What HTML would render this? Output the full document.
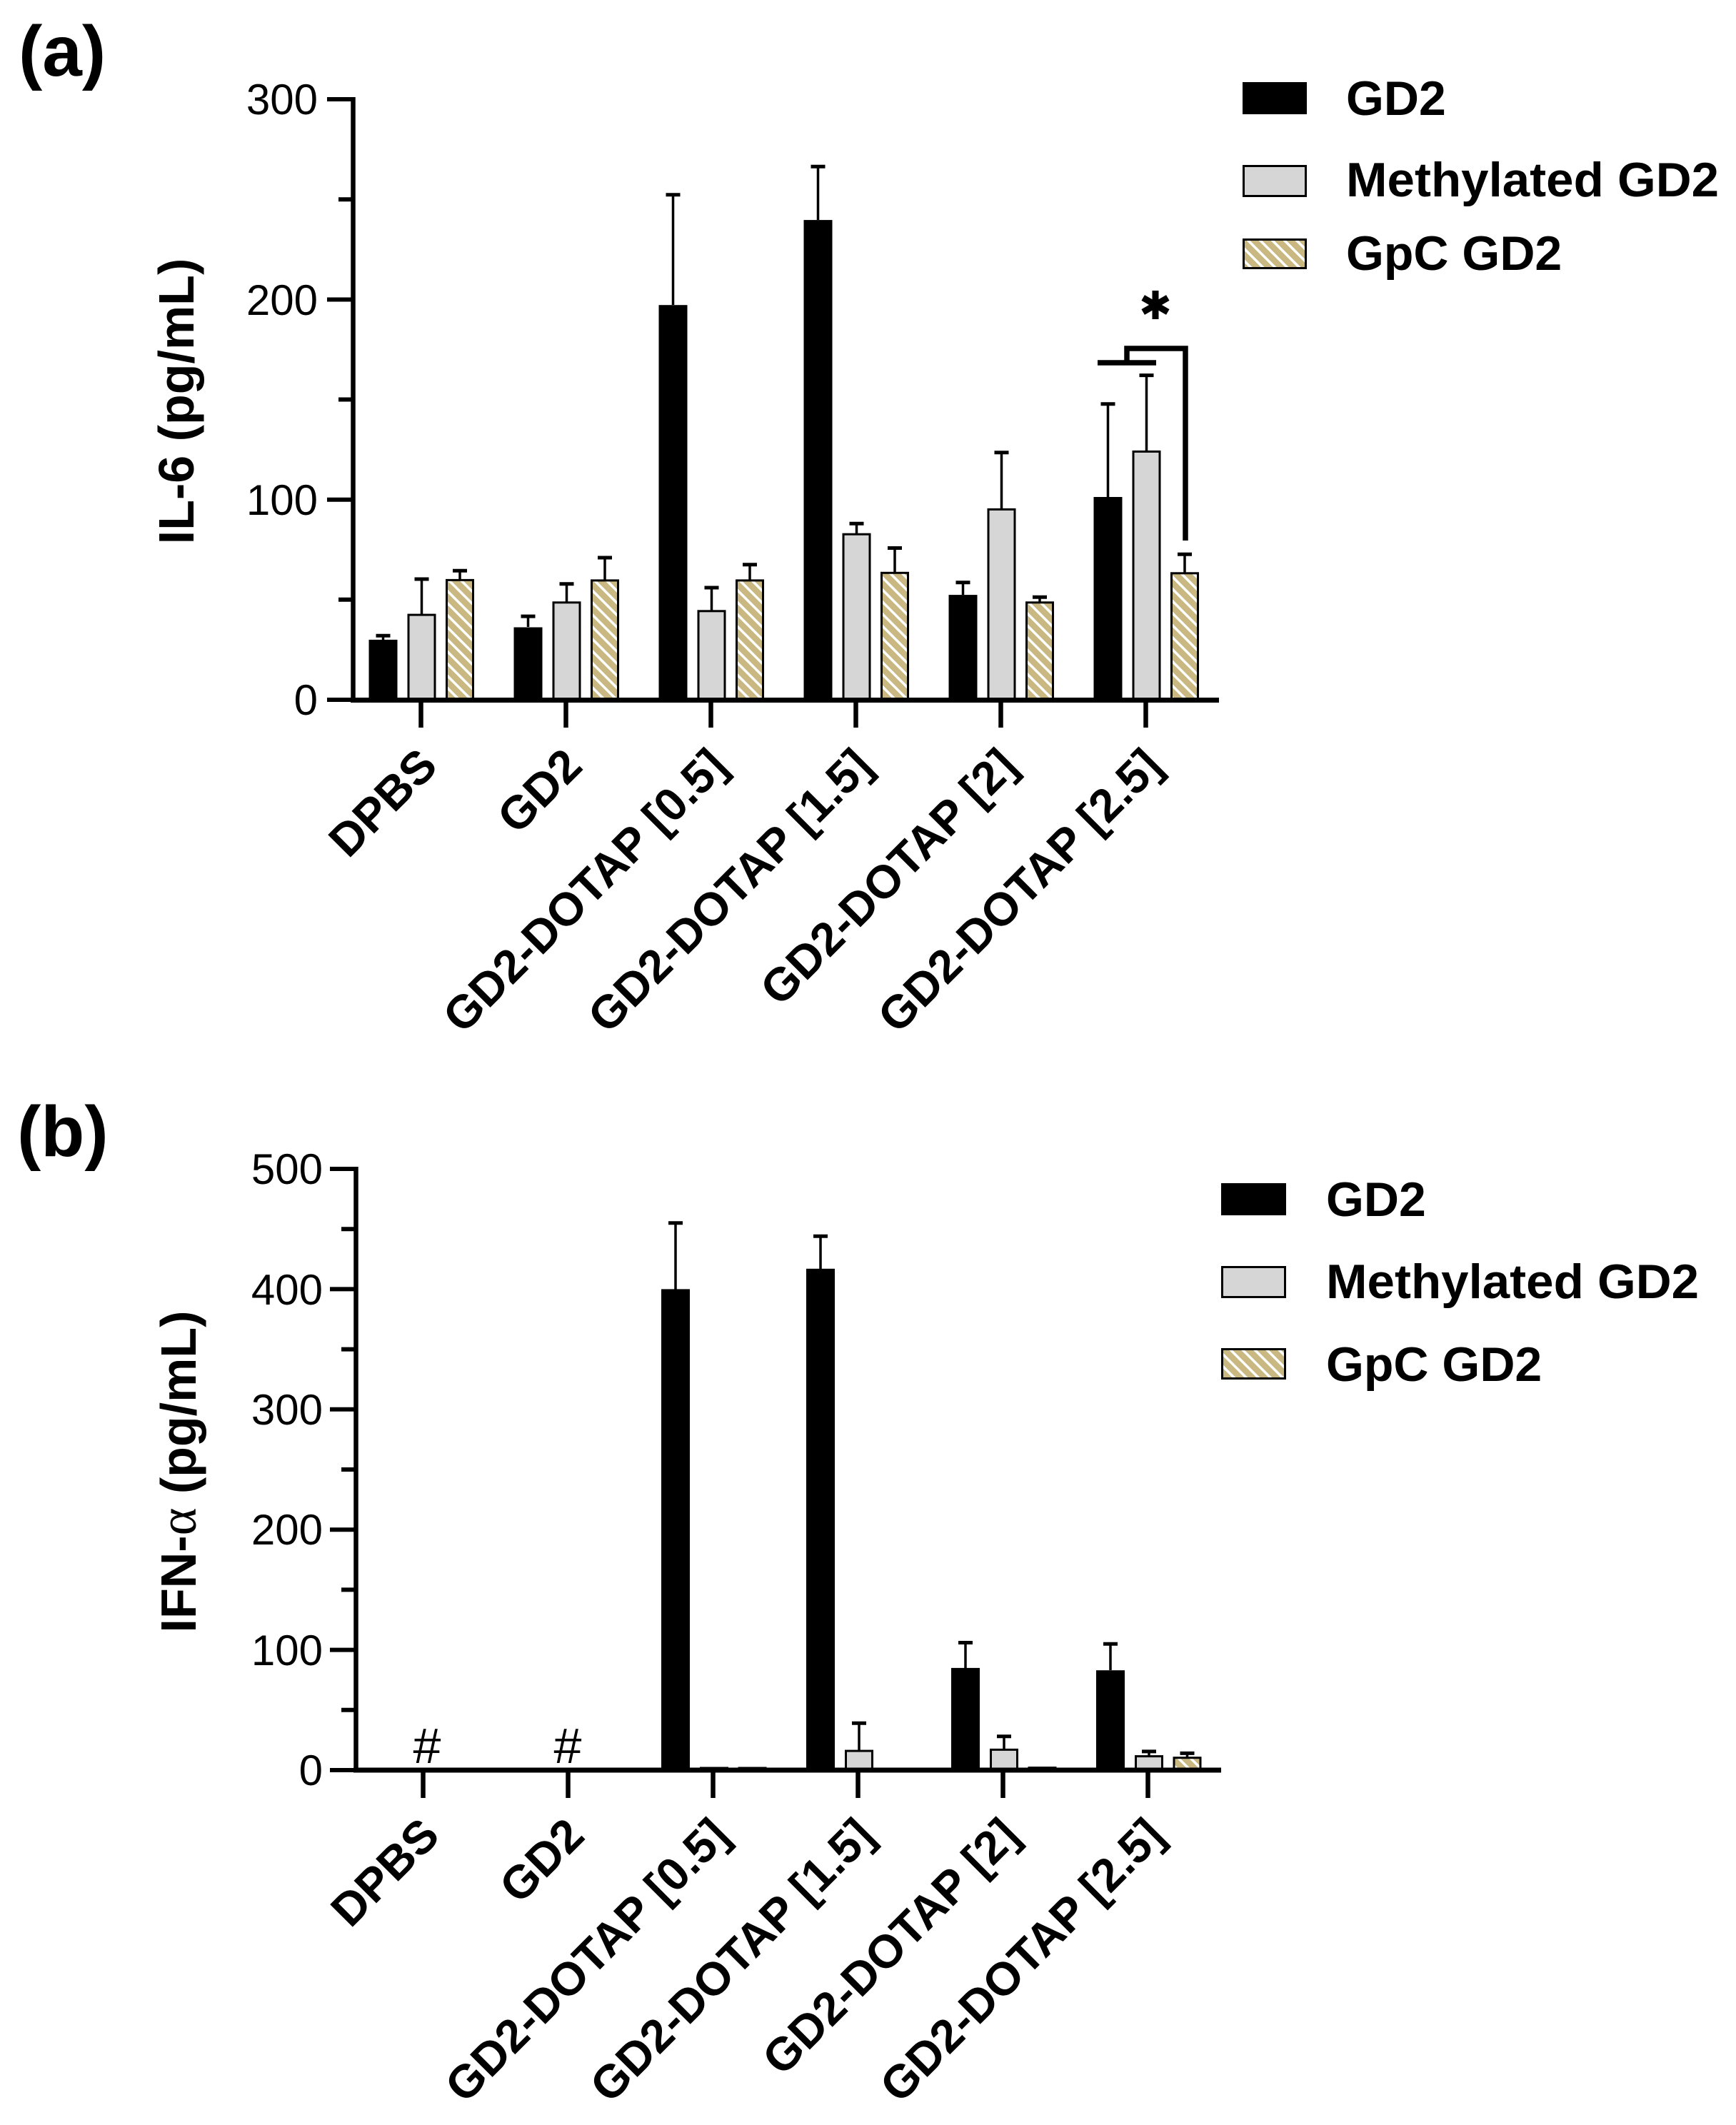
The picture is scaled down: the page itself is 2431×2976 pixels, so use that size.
<!DOCTYPE html>
<html>
<head>
<meta charset="utf-8">
<style>
  html, body { margin:0; padding:0; background:#fff; }
  svg { display:block; }
  text { font-family: "Liberation Sans", Arial, sans-serif; fill:#000; }
  .tick { font-size:60px; font-weight:normal; }
  .lab { font-size:65px; font-weight:bold; }
  .leg { font-size:68px; font-weight:bold; }
  .ylab { font-size:70px; font-weight:bold; }
  .panel { font-size:100px; font-weight:bold; }
</style>
</head>
<body>
<svg width="2431" height="2976" viewBox="0 0 2431 2976" xmlns="http://www.w3.org/2000/svg">
  <defs>
    <pattern id="hatch" patternUnits="userSpaceOnUse" width="12" height="12" patternTransform="rotate(-45)">
      <rect x="0" y="0" width="12" height="12" fill="#c9b882"/>
      <rect x="0" y="0" width="3.5" height="12" fill="#ffffff"/>
    </pattern>
  </defs>
  <rect width="2431" height="2976" fill="#fff"/>

  <!-- ================= PANEL (a) ================= -->
  <text class="panel" x="26" y="106">(a)</text>

  <!-- y label -->
  <text class="ylab" text-anchor="middle" transform="translate(271,562) rotate(-90)">IL-6 (pg/mL)</text>

  <!-- tick labels -->
  <text class="tick" x="445" y="160" text-anchor="end">300</text>
  <text class="tick" x="445" y="441" text-anchor="end">200</text>
  <text class="tick" x="445" y="721" text-anchor="end">100</text>
  <text class="tick" x="445" y="1001" text-anchor="end">0</text>

  <!-- bars (a) -->
  <g stroke="#000" stroke-width="3">
    <!-- DPBS -->
    <rect x="516.5" y="895.9" width="40" height="84.1" fill="#000" stroke="none"/>
    <rect x="572" y="861.1" width="37" height="119" fill="#d6d6d6"/>
    <rect x="625.5" y="812.4" width="37" height="167.6" fill="url(#hatch)"/>
    <!-- GD2 -->
    <rect x="719.5" y="878.5" width="40" height="101.5" fill="#000" stroke="none"/>
    <rect x="775" y="843.8" width="37" height="136.2" fill="#d6d6d6"/>
    <rect x="828.5" y="812.9" width="37" height="167.1" fill="url(#hatch)"/>
    <!-- 0.5 -->
    <rect x="922.5" y="427.2" width="40" height="552.8" fill="#000" stroke="none"/>
    <rect x="978" y="855.8" width="37" height="124.2" fill="#d6d6d6"/>
    <rect x="1031.5" y="812.9" width="37" height="167.1" fill="url(#hatch)"/>
    <!-- 1.5 -->
    <rect x="1125.5" y="308.1" width="40" height="671.9" fill="#000" stroke="none"/>
    <rect x="1181" y="748.2" width="37" height="231.8" fill="#d6d6d6"/>
    <rect x="1234.5" y="802.3" width="37" height="177.7" fill="url(#hatch)"/>
    <!-- 2 -->
    <rect x="1328.5" y="833.1" width="40" height="146.9" fill="#000" stroke="none"/>
    <rect x="1384" y="713.4" width="37" height="266.6" fill="#d6d6d6"/>
    <rect x="1437.5" y="843.8" width="37" height="136.2" fill="url(#hatch)"/>
    <!-- 2.5 -->
    <rect x="1531.5" y="696" width="40" height="284" fill="#000" stroke="none"/>
    <rect x="1587" y="632.4" width="37" height="347.6" fill="#d6d6d6"/>
    <rect x="1640.5" y="802.8" width="37" height="177.2" fill="url(#hatch)"/>
  </g>

  <!-- error bars (a) -->
  <g stroke="#000" fill="none">
    <g stroke-width="3.5">
      <line x1="536.5" y1="896" x2="536.5" y2="890.3"/>
      <line x1="590.5" y1="861" x2="590.5" y2="811"/>
      <line x1="644" y1="812" x2="644" y2="799.2"/>
      <line x1="739.5" y1="878" x2="739.5" y2="863.1"/>
      <line x1="793.5" y1="843" x2="793.5" y2="817.7"/>
      <line x1="847" y1="812" x2="847" y2="781"/>
      <line x1="942.5" y1="427" x2="942.5" y2="272.8"/>
      <line x1="996.5" y1="855" x2="996.5" y2="823"/>
      <line x1="1050" y1="812" x2="1050" y2="790.8"/>
      <line x1="1145.5" y1="308" x2="1145.5" y2="233.3"/>
      <line x1="1199.5" y1="748" x2="1199.5" y2="733.3"/>
      <line x1="1253" y1="802" x2="1253" y2="767.5"/>
      <line x1="1348.5" y1="833" x2="1348.5" y2="815.7"/>
      <line x1="1402.5" y1="713" x2="1402.5" y2="633.8"/>
      <line x1="1456" y1="843" x2="1456" y2="836.2"/>
      <line x1="1551.5" y1="696" x2="1551.5" y2="565.7"/>
      <line x1="1605.5" y1="632" x2="1605.5" y2="525.6"/>
      <line x1="1659" y1="802" x2="1659" y2="776.2"/>
    </g>
    <g stroke-width="5">
      <line x1="526.5" y1="890.3" x2="546.5" y2="890.3"/>
      <line x1="580.5" y1="811" x2="600.5" y2="811"/>
      <line x1="634" y1="799.2" x2="654" y2="799.2"/>
      <line x1="729.5" y1="863.1" x2="749.5" y2="863.1"/>
      <line x1="783.5" y1="817.7" x2="803.5" y2="817.7"/>
      <line x1="837" y1="781" x2="857" y2="781"/>
      <line x1="932.5" y1="272.8" x2="952.5" y2="272.8"/>
      <line x1="986.5" y1="823" x2="1006.5" y2="823"/>
      <line x1="1040" y1="790.8" x2="1060" y2="790.8"/>
      <line x1="1135.5" y1="233.3" x2="1155.5" y2="233.3"/>
      <line x1="1189.5" y1="733.3" x2="1209.5" y2="733.3"/>
      <line x1="1243" y1="767.5" x2="1263" y2="767.5"/>
      <line x1="1338.5" y1="815.7" x2="1358.5" y2="815.7"/>
      <line x1="1392.5" y1="633.8" x2="1412.5" y2="633.8"/>
      <line x1="1446" y1="836.2" x2="1466" y2="836.2"/>
      <line x1="1541.5" y1="565.7" x2="1561.5" y2="565.7"/>
      <line x1="1595.5" y1="525.6" x2="1615.5" y2="525.6"/>
      <line x1="1649" y1="776.2" x2="1669" y2="776.2"/>
    </g>
  </g>

  <!-- significance bracket (a) -->
  <g stroke="#000" stroke-width="7.5" fill="none" stroke-linecap="butt">
    <line x1="1537" y1="508" x2="1619" y2="508"/>
    <polyline points="1578,511 1578,488 1660,488 1660,757"/>
  </g>
  <g stroke="#000" stroke-width="9" stroke-linecap="butt">
    <line x1="1618" y1="407" x2="1618" y2="447"/>
    <line x1="1600.7" y1="417" x2="1635.3" y2="437"/>
    <line x1="1600.7" y1="437" x2="1635.3" y2="417"/>
  </g>

  <!-- axes (a) -->
  <g stroke="#000" fill="none">
    <line x1="494.5" y1="136" x2="494.5" y2="984" stroke-width="6.5"/>
    <line x1="491" y1="980.5" x2="1707" y2="980.5" stroke-width="7"/>
    <g stroke-width="6">
      <line x1="458" y1="139" x2="494" y2="139"/>
      <line x1="458" y1="419.5" x2="494" y2="419.5"/>
      <line x1="458" y1="699.8" x2="494" y2="699.8"/>
      <line x1="458" y1="980" x2="494" y2="980"/>
      <line x1="474" y1="279.2" x2="494" y2="279.2"/>
      <line x1="474" y1="559.5" x2="494" y2="559.5"/>
      <line x1="474" y1="839.8" x2="494" y2="839.8"/>
    </g>
    <g stroke-width="6.5">
      <line x1="589.5" y1="980" x2="589.5" y2="1019"/>
      <line x1="792.5" y1="980" x2="792.5" y2="1019"/>
      <line x1="995.5" y1="980" x2="995.5" y2="1019"/>
      <line x1="1198.5" y1="980" x2="1198.5" y2="1019"/>
      <line x1="1401.5" y1="980" x2="1401.5" y2="1019"/>
      <line x1="1604.5" y1="980" x2="1604.5" y2="1019"/>
    </g>
  </g>

  <!-- x labels (a) -->
  <text class="lab" text-anchor="end" transform="translate(615.5,1076) rotate(-45)">DPBS</text>
  <text class="lab" text-anchor="end" transform="translate(818.5,1076) rotate(-45)">GD2</text>
  <text class="lab" text-anchor="end" transform="translate(1021.5,1076) rotate(-45)">GD2-DOTAP [0.5]</text>
  <text class="lab" text-anchor="end" transform="translate(1224.5,1076) rotate(-45)">GD2-DOTAP [1.5]</text>
  <text class="lab" text-anchor="end" transform="translate(1427.5,1076) rotate(-45)">GD2-DOTAP [2]</text>
  <text class="lab" text-anchor="end" transform="translate(1630.5,1076) rotate(-45)">GD2-DOTAP [2.5]</text>

  <!-- legend (a) -->
  <rect x="1740" y="115" width="90" height="45" fill="#000"/>
  <rect x="1741.5" y="232.5" width="87" height="42" fill="#d6d6d6" stroke="#000" stroke-width="3"/>
  <rect x="1741.5" y="335.5" width="87" height="40" fill="url(#hatch)" stroke="#000" stroke-width="3"/>
  <text class="leg" x="1885" y="161">GD2</text>
  <text class="leg" x="1885" y="275" textLength="522" lengthAdjust="spacingAndGlyphs">Methylated GD2</text>
  <text class="leg" x="1885" y="378">GpC GD2</text>

  <!-- ================= PANEL (b) ================= -->
  <text class="panel" x="24" y="1619">(b)</text>

  <text class="ylab" text-anchor="middle" transform="translate(274,2061) rotate(-90)">IFN-<tspan style="font-family:'Liberation Serif','DejaVu Serif',serif;font-weight:normal;font-size:74px">α</tspan> (pg/mL)</text>

  <text class="tick" x="452" y="1658" text-anchor="end">500</text>
  <text class="tick" x="452" y="1827" text-anchor="end">400</text>
  <text class="tick" x="452" y="1995" text-anchor="end">300</text>
  <text class="tick" x="452" y="2163" text-anchor="end">200</text>
  <text class="tick" x="452" y="2332" text-anchor="end">100</text>
  <text class="tick" x="452" y="2500" text-anchor="end">0</text>

  <!-- # markers -->
  <text x="598" y="2469" text-anchor="middle" style="font-size:70px">#</text>
  <text x="795" y="2469" text-anchor="middle" style="font-size:70px">#</text>

  <!-- bars (b) -->
  <g stroke="#000" stroke-width="3">
    <!-- 0.5 -->
    <rect x="926" y="1805.4" width="40" height="673.6" fill="#000" stroke="none"/>
    <rect x="981.5" y="2476" width="37" height="3" fill="#d6d6d6"/>
    <rect x="1035" y="2476" width="37" height="3" fill="url(#hatch)"/>
    <!-- 1.5 -->
    <rect x="1129" y="1776.8" width="40" height="702.2" fill="#000" stroke="none"/>
    <rect x="1184.5" y="2452.1" width="37" height="26.9" fill="#d6d6d6"/>
    <!-- 2 -->
    <rect x="1332" y="2335.9" width="40" height="143.1" fill="#000" stroke="none"/>
    <rect x="1387.5" y="2450.4" width="37" height="28.6" fill="#d6d6d6"/>
    <rect x="1441" y="2475.6" width="37" height="3.4" fill="url(#hatch)"/>
    <!-- 2.5 -->
    <rect x="1535" y="2339.2" width="40" height="139.8" fill="#000" stroke="none"/>
    <rect x="1590.5" y="2459.6" width="37" height="19.4" fill="#d6d6d6"/>
    <rect x="1644" y="2461.7" width="37" height="17.3" fill="url(#hatch)"/>
  </g>

  <!-- error bars (b) -->
  <g stroke="#000" fill="none">
    <g stroke-width="3.5">
      <line x1="946" y1="1806" x2="946" y2="1712.8"/>
      <line x1="1149" y1="1777" x2="1149" y2="1731.3"/>
      <line x1="1203" y1="2452" x2="1203" y2="2413.3"/>
      <line x1="1352" y1="2336" x2="1352" y2="2300.5"/>
      <line x1="1406" y1="2450" x2="1406" y2="2431.8"/>
      <line x1="1555" y1="2339" x2="1555" y2="2302.2"/>
      <line x1="1609" y1="2459" x2="1609" y2="2452.9"/>
      <line x1="1662.5" y1="2461" x2="1662.5" y2="2455.4"/>
    </g>
    <g stroke-width="5">
      <line x1="936" y1="1712.8" x2="956" y2="1712.8"/>
      <line x1="1139" y1="1731.3" x2="1159" y2="1731.3"/>
      <line x1="1193" y1="2413.3" x2="1213" y2="2413.3"/>
      <line x1="1342" y1="2300.5" x2="1362" y2="2300.5"/>
      <line x1="1396" y1="2431.8" x2="1416" y2="2431.8"/>
      <line x1="1545" y1="2302.2" x2="1565" y2="2302.2"/>
      <line x1="1599" y1="2452.9" x2="1619" y2="2452.9"/>
      <line x1="1652.5" y1="2455.4" x2="1672.5" y2="2455.4"/>
    </g>
  </g>

  <!-- axes (b) -->
  <g stroke="#000" fill="none">
    <line x1="498.5" y1="1634" x2="498.5" y2="2482.5" stroke-width="6.5"/>
    <line x1="495" y1="2479" x2="1710" y2="2479" stroke-width="7"/>
    <g stroke-width="6">
      <line x1="462" y1="1637" x2="498" y2="1637"/>
      <line x1="462" y1="1805.4" x2="498" y2="1805.4"/>
      <line x1="462" y1="1973.8" x2="498" y2="1973.8"/>
      <line x1="462" y1="2142.2" x2="498" y2="2142.2"/>
      <line x1="462" y1="2310.6" x2="498" y2="2310.6"/>
      <line x1="462" y1="2479" x2="498" y2="2479"/>
      <line x1="478" y1="1721.2" x2="498" y2="1721.2"/>
      <line x1="478" y1="1889.6" x2="498" y2="1889.6"/>
      <line x1="478" y1="2058" x2="498" y2="2058"/>
      <line x1="478" y1="2226.4" x2="498" y2="2226.4"/>
      <line x1="478" y1="2394.8" x2="498" y2="2394.8"/>
    </g>
    <g stroke-width="6.5">
      <line x1="592.5" y1="2479" x2="592.5" y2="2518"/>
      <line x1="795.5" y1="2479" x2="795.5" y2="2518"/>
      <line x1="998.5" y1="2479" x2="998.5" y2="2518"/>
      <line x1="1201.5" y1="2479" x2="1201.5" y2="2518"/>
      <line x1="1404.5" y1="2479" x2="1404.5" y2="2518"/>
      <line x1="1607.5" y1="2479" x2="1607.5" y2="2518"/>
    </g>
  </g>

  <!-- x labels (b) -->
  <text class="lab" text-anchor="end" transform="translate(618.5,2574) rotate(-45)">DPBS</text>
  <text class="lab" text-anchor="end" transform="translate(821.5,2574) rotate(-45)">GD2</text>
  <text class="lab" text-anchor="end" transform="translate(1024.5,2574) rotate(-45)">GD2-DOTAP [0.5]</text>
  <text class="lab" text-anchor="end" transform="translate(1227.5,2574) rotate(-45)">GD2-DOTAP [1.5]</text>
  <text class="lab" text-anchor="end" transform="translate(1430.5,2574) rotate(-45)">GD2-DOTAP [2]</text>
  <text class="lab" text-anchor="end" transform="translate(1633.5,2574) rotate(-45)">GD2-DOTAP [2.5]</text>

  <!-- legend (b) -->
  <rect x="1710" y="1657" width="91" height="45" fill="#000"/>
  <rect x="1711.5" y="1774.5" width="88" height="42" fill="#d6d6d6" stroke="#000" stroke-width="3"/>
  <rect x="1711.5" y="1889.5" width="88" height="41" fill="url(#hatch)" stroke="#000" stroke-width="3"/>
  <text class="leg" x="1857" y="1703">GD2</text>
  <text class="leg" x="1857" y="1818" textLength="522" lengthAdjust="spacingAndGlyphs">Methylated GD2</text>
  <text class="leg" x="1857" y="1934">GpC GD2</text>
</svg>
</body>
</html>
